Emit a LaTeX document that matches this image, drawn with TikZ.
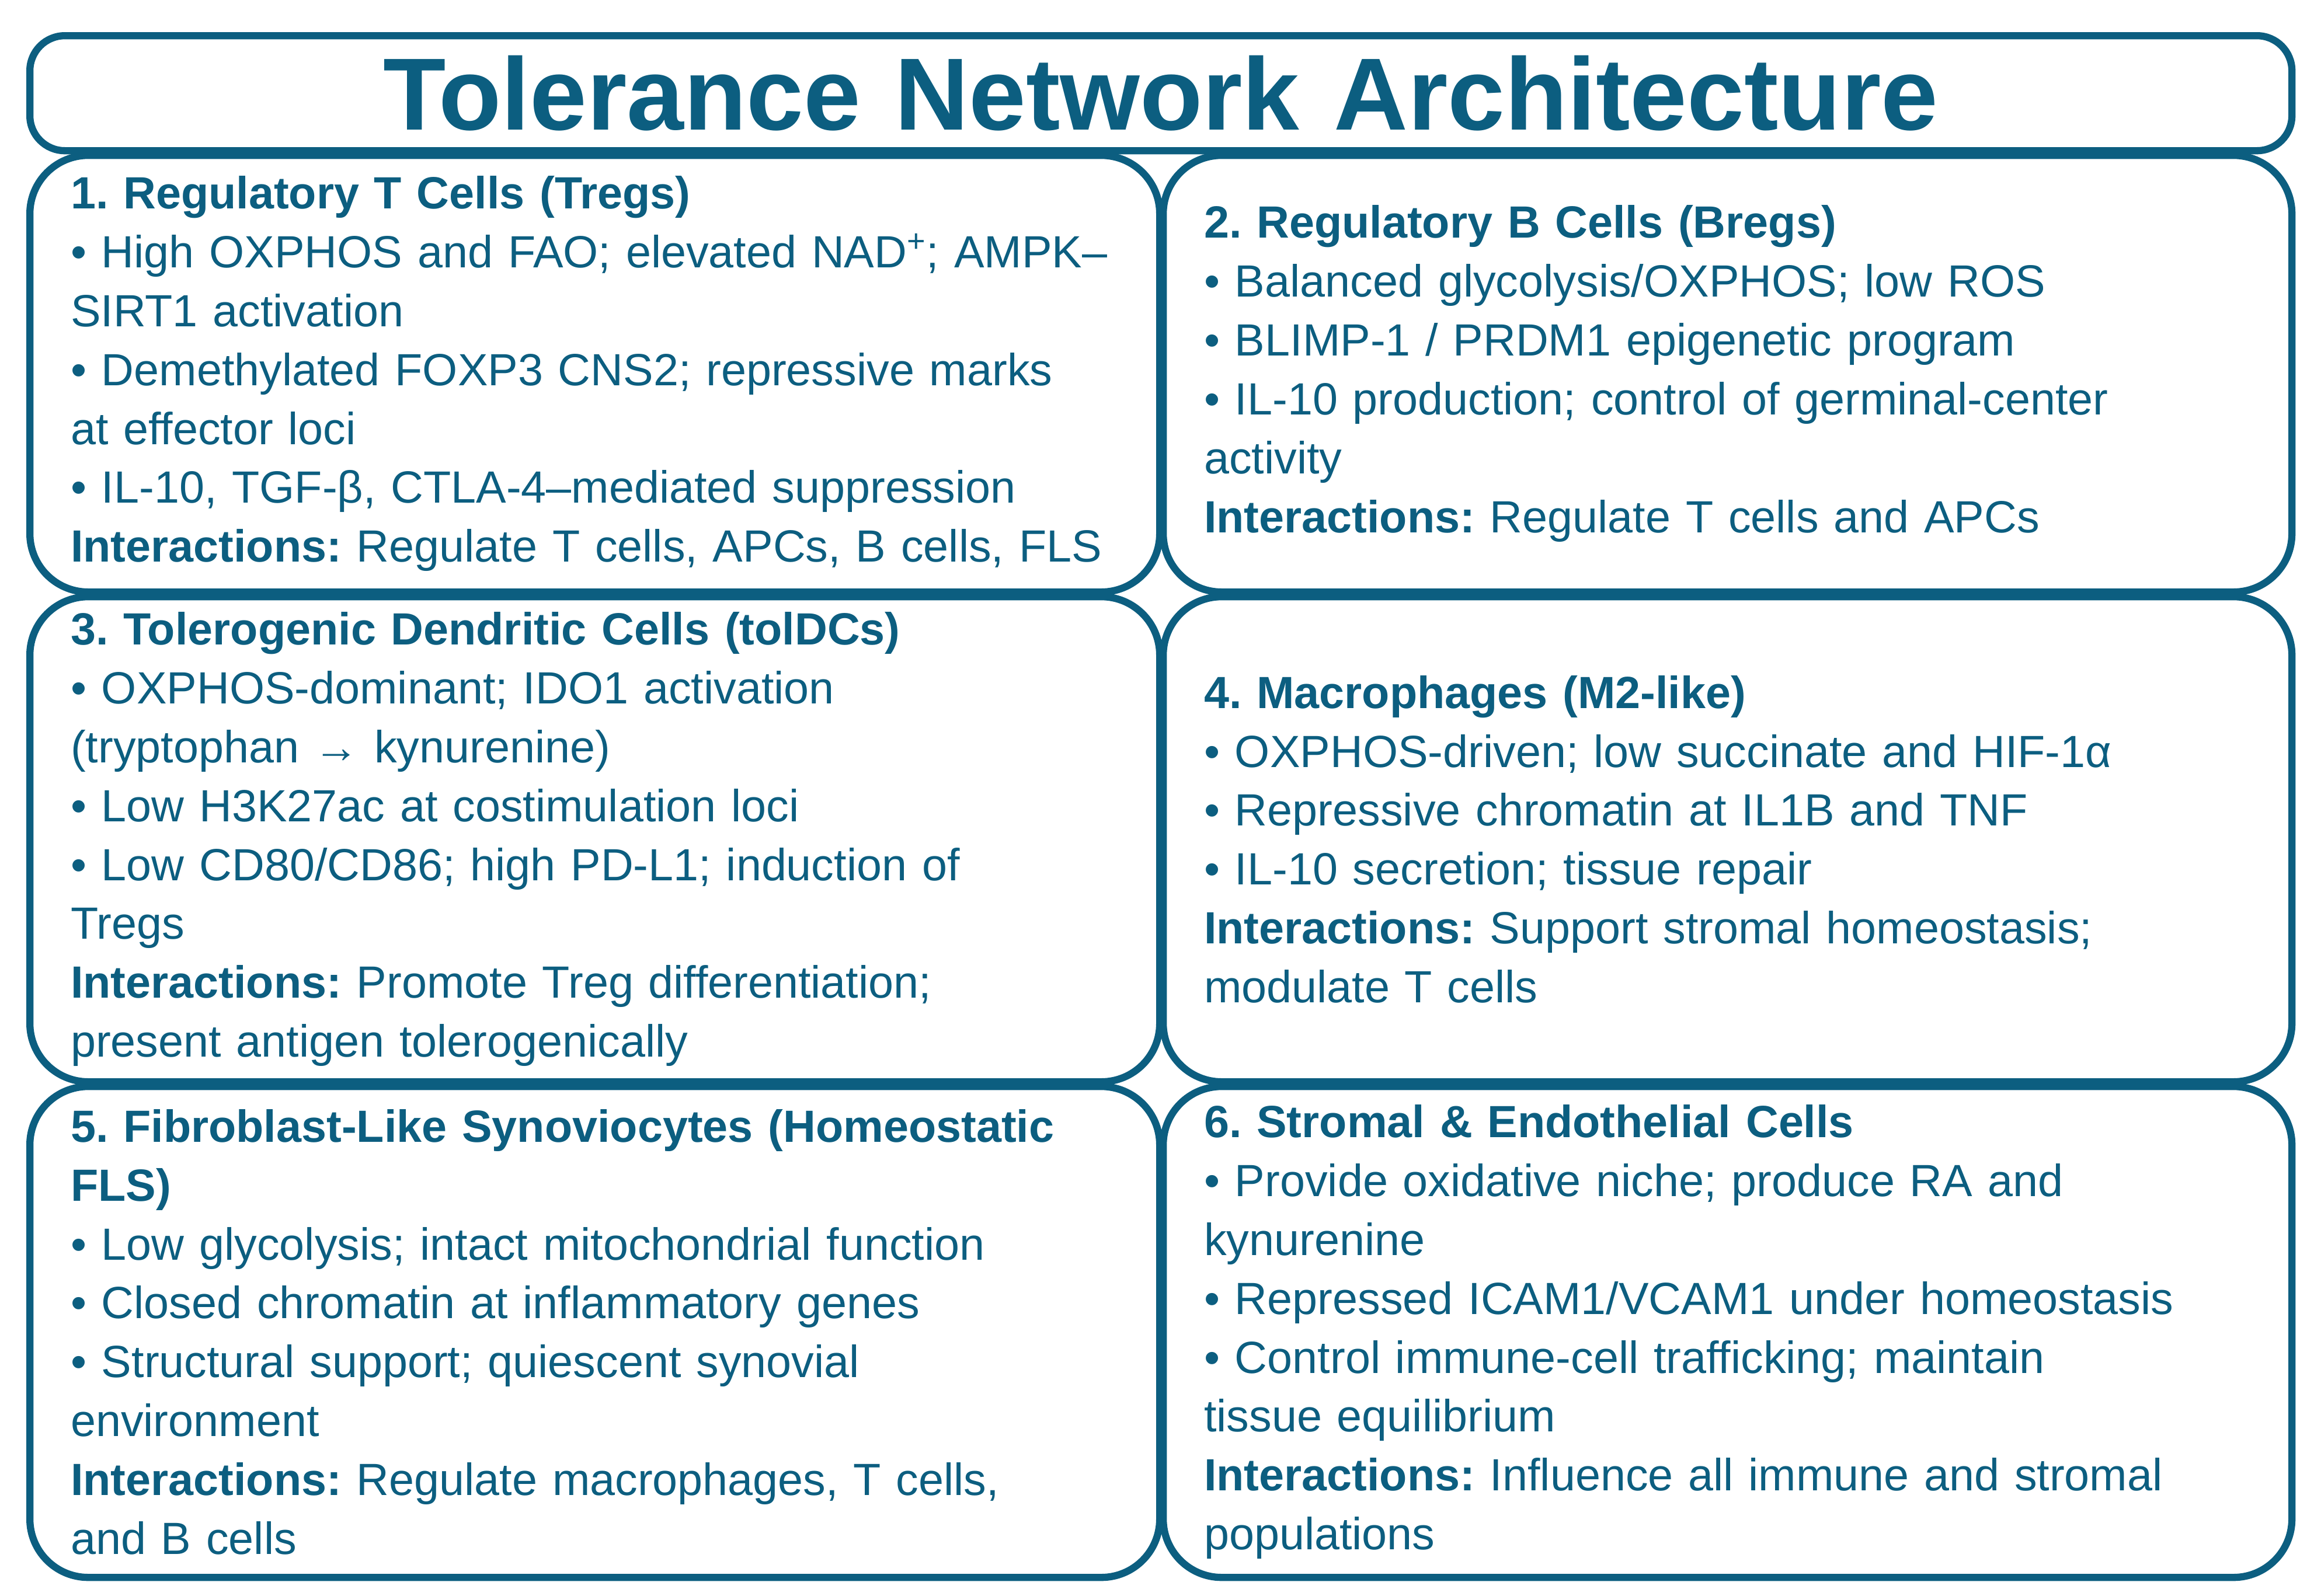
\documentclass[tikz,border=0pt]{standalone}
\usepackage{fontspec}
\setmainfont{Liberation Sans}
\frenchspacing
\definecolor{teal}{HTML}{0C5E80}
\begin{document}
\begin{tikzpicture}
      \tikzset{panel/.style={draw=teal, line width=3.5pt, rounded corners=1cm, fill=white, anchor=north west,
          text=teal, align=left, inner xsep=0.7cm, inner ysep=0pt, font=\fontsize{22}{28.7}\selectfont},
        left/.style={panel, text width=17.95cm, minimum width=19.35cm},
        right/.style={panel, text width=17.93cm, minimum width=19.33cm}}
      \useasboundingbox (0,0) rectangle (39.51,-27.33);

      \node[panel, minimum width=38.74cm, minimum height=1.97cm, inner xsep=0pt, rounded corners=0.6cm, text width=38cm, align=center,
        font=\fontsize{50}{52}\bfseries] (title) at (0.45,-0.55) {Tolerance Network Architecture};

      \node[left, minimum height=7.48cm] (tregs) at (0.45,-2.6) {\textbf{1. Regulatory T Cells (Tregs)}\\
        • High OXPHOS and FAO; elevated NAD\textsuperscript{+}; AMPK–\\SIRT1 activation\\
        • Demethylated FOXP3 CNS2; repressive marks\\at effector loci\\
        • IL-10, TGF-β, CTLA-4–mediated suppression\\
        \textbf{Interactions:} Regulate T cells, APCs, B cells, FLS};
      \node[right, minimum height=7.48cm] (bregs) at (19.86,-2.6) {\textbf{2. Regulatory B Cells (Bregs)}\\
        • Balanced glycolysis/OXPHOS; low ROS\\
        • BLIMP-1 / PRDM1 epigenetic program\\
        • IL-10 production; control of germinal-center\\activity\\
        \textbf{Interactions:} Regulate T cells and APCs};
      \node[left, minimum height=8.31cm] (toldc) at (0.45,-10.16) {\textbf{3. Tolerogenic Dendritic Cells (tolDCs)}\\
        • OXPHOS-dominant; IDO1 activation\\(tryptophan → kynurenine)\\
        • Low H3K27ac at costimulation loci\\
        • Low CD80/CD86; high PD-L1; induction of\\Tregs\\
        \textbf{Interactions:} Promote Treg differentiation;\\present antigen tolerogenically};
      \node[right, minimum height=8.31cm] (macro) at (19.86,-10.16) {\textbf{4. Macrophages (M2-like)}\\
        • OXPHOS-driven; low succinate and HIF-1α\\
        • Repressive chromatin at IL1B and TNF\\
        • IL-10 secretion; tissue repair\\
        \textbf{Interactions:} Support stromal homeostasis;\\modulate T cells};
      \node[left, minimum height=8.41cm] (fls) at (0.45,-18.55) {\textbf{5. Fibroblast-Like Synoviocytes (Homeostatic}\\\textbf{FLS)}\\
        • Low glycolysis; intact mitochondrial function\\
        • Closed chromatin at inflammatory genes\\
        • Structural support; quiescent synovial\\environment\\
        \textbf{Interactions:} Regulate macrophages, T cells,\\and B cells};
      \node[right, minimum height=8.41cm] (stroma) at (19.86,-18.55) {\textbf{6. Stromal \& Endothelial Cells}\\
        • Provide oxidative niche; produce RA and\\kynurenine\\
        • Repressed ICAM1/VCAM1 under homeostasis\\
        • Control immune-cell trafficking; maintain\\tissue equilibrium\\
        \textbf{Interactions:} Influence all immune and stromal\\populations};
\end{tikzpicture}
\end{document}
